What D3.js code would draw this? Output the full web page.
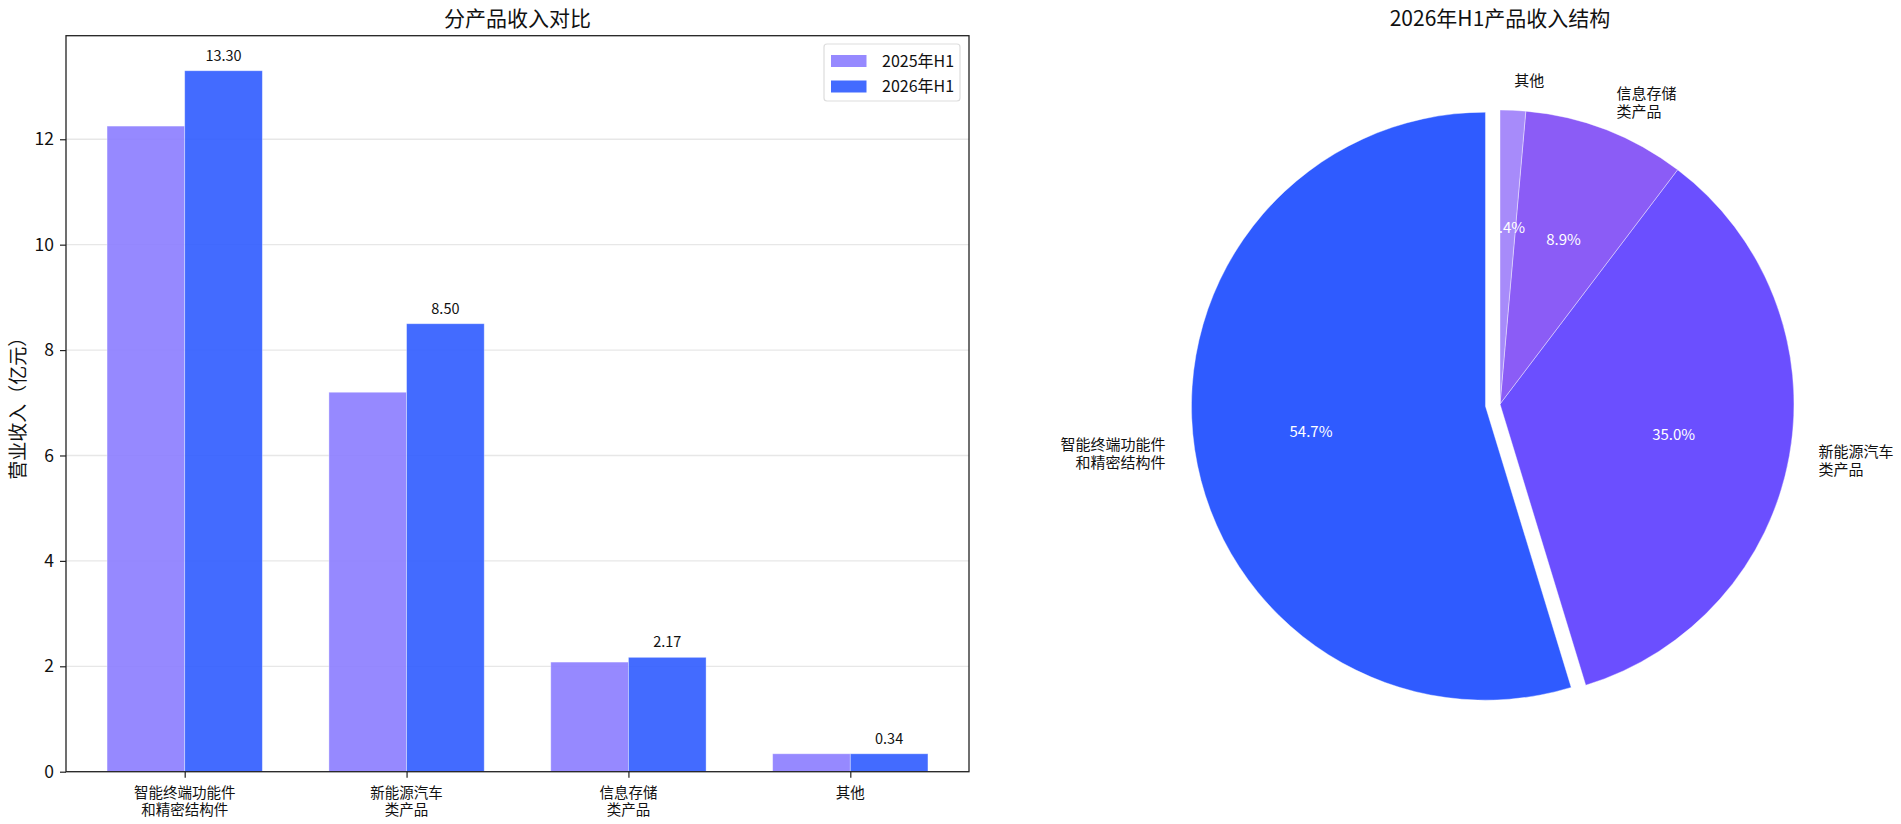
<!DOCTYPE html>
<html>
<head>
<meta charset="utf-8">
<script src="https://cdn.jsdelivr.net/npm/d3@7"></script>
<style>
  body { margin: 0; background: #fff; }
  svg text { font-family: "Noto Sans CJK SC", "Noto Sans", sans-serif; fill: #111; }
</style>
</head>
<body>
<svg id="chart" width="1901" height="824"></svg>
<script>
// data
const categories = ["智能终端功能件\n和精密结构件", "新能源汽车\n类产品", "信息存储\n类产品", "其他"];
const series = ["2025年H1", "2026年H1"];
const rev2025 = [12.25, 7.2, 2.08, 0.34];
const rev2026 = [13.3, 8.5, 2.17, 0.34];
const yTicks = [0, 2, 4, 6, 8, 10, 12];

const barColors = ["#8B7CFF", "#2F5BFF"];
const pieColors = ["#2F5BFF", "#6B4FFF", "#8B5CF6", "#A78BFA"];

const svg = d3.select("#chart");

// ---------- left: grouped bars ----------
const ax = { left: 66, right: 969, top: 35.7, bottom: 771.7 };
const barW = 0.35;
const x = d3.scaleLinear().domain([-0.535, 3.535]).range([ax.left, ax.right]);
const y = d3.scaleLinear().domain([0, d3.max(rev2026) * 1.05]).range([ax.bottom, ax.top]);

const g = svg.append("g");

// grid below bars
g.selectAll(".grid")
  .data(yTicks)
  .enter()
  .append("line")
  .attr("x1", ax.left)
  .attr("x2", ax.right)
  .attr("y1", d => y(d))
  .attr("y2", d => y(d))
  .attr("stroke", "#b0b0b0")
  .attr("stroke-opacity", 0.3)
  .attr("stroke-width", 1.3);

const bars = [rev2025, rev2026];
bars.forEach((vals, s) => {
  const off = s === 0 ? -barW / 2 : barW / 2;
  g.selectAll(".bar" + s)
    .data(vals)
    .enter()
    .append("rect")
    .attr("x", (d, i) => x(i + off - barW / 2))
    .attr("width", x(barW) - x(0))
    .attr("y", d => y(d))
    .attr("height", d => y(0) - y(d))
    .attr("fill", barColors[s])
    .attr("fill-opacity", 0.9)
    .attr("stroke", "#fff")
    .attr("stroke-opacity", 0.45)
    .attr("stroke-width", 0.8);
});

// value labels on 2026 bars
g.selectAll(".val")
  .data(rev2026)
  .enter()
  .append("text")
  .attr("x", (d, i) => x(i + barW / 2))
  .attr("y", d => y(d) - 10)
  .attr("text-anchor", "middle")
  .attr("font-size", "14.5px")
  .text(d => d.toFixed(2));

// y axis
const yAxis = g.append("g")
  .attr("transform", `translate(${ax.left},0)`)
  .call(d3.axisLeft(y).tickValues(yTicks).tickSize(6).tickPadding(6));
yAxis.select(".domain").remove();
yAxis.selectAll("text").attr("font-size", "17.5px").style("font-family", "'Noto Sans CJK SC'").attr("fill", "#111");
yAxis.selectAll("line").attr("stroke", "#222").attr("stroke-width", 1.2);

// x axis ticks + two-line labels
const xAxis = g.append("g")
  .attr("transform", `translate(0,${ax.bottom})`)
  .call(d3.axisBottom(x).tickValues([0, 1, 2, 3]).tickSize(6).tickFormat(""));
xAxis.select(".domain").remove();
xAxis.selectAll("line").attr("stroke", "#222").attr("stroke-width", 1.2);

g.selectAll(".xlab")
  .data(categories)
  .enter()
  .append("text")
  .attr("text-anchor", "middle")
  .attr("font-size", "14.5px")
  .each(function (d, i) {
    const t = d3.select(this);
    d.split("\n").forEach((line, k) => {
      t.append("tspan")
        .attr("x", x(i))
        .attr("y", ax.bottom + 26 + k * 17.5)
        .text(line);
    });
  });

// frame
g.append("rect")
  .attr("x", ax.left)
  .attr("y", ax.top)
  .attr("width", ax.right - ax.left)
  .attr("height", ax.bottom - ax.top)
  .attr("fill", "none")
  .attr("stroke", "#222")
  .attr("stroke-width", 1.3);

// titles
g.append("text")
  .attr("x", (ax.left + ax.right) / 2)
  .attr("y", 26)
  .attr("text-anchor", "middle")
  .attr("font-size", "21px")
  .text("分产品收入对比");

g.append("text")
  .attr("transform", `translate(25,${(ax.top + ax.bottom) / 2}) rotate(-90)`)
  .attr("text-anchor", "middle")
  .attr("font-size", "19px")
  .text("营业收入（亿元）");

// legend
const lg = g.append("g");
lg.append("rect")
  .attr("x", 824)
  .attr("y", 44)
  .attr("width", 136)
  .attr("height", 57)
  .attr("rx", 3)
  .attr("fill", "#fff")
  .attr("fill-opacity", 0.8)
  .attr("stroke", "#ddd")
  .attr("stroke-width", 1.2);
series.forEach((name, s) => {
  lg.append("rect")
    .attr("x", 831)
    .attr("y", 55 + s * 25.5)
    .attr("width", 35.5)
    .attr("height", 12)
    .attr("fill", barColors[s])
    .attr("fill-opacity", 0.9);
  lg.append("text")
    .attr("x", 882)
    .attr("y", 61 + s * 25.5)
    .attr("dy", "0.35em")
    .attr("font-size", "16px")
    .text(name);
});

// ---------- right: pie ----------
const cx = 1500, cy = 404, r = 294;
const pie = d3.pie().sort(null).value(d => d).startAngle(0).endAngle(-2 * Math.PI);
const arcs = pie(rev2026);
const total = d3.sum(rev2026);
const arc = d3.arc().innerRadius(0).outerRadius(r);
const explode = [0.05, 0, 0, 0];

const pg = svg.append("g").attr("transform", `translate(${cx},${cy})`);

arcs.forEach((a, i) => {
  const mid = (a.startAngle + a.endAngle) / 2;
  const ox = Math.sin(mid) * explode[i] * r;
  const oy = -Math.cos(mid) * explode[i] * r;
  const wg = pg.append("g").attr("transform", `translate(${ox},${oy})`);
  wg.append("path")
    .attr("d", arc(a))
    .attr("fill", pieColors[i])
    .attr("stroke", "#fff")
    .attr("stroke-opacity", 0.5)
    .attr("stroke-width", 0.8);
  a.ox = ox;
  a.oy = oy;
  a.mid = mid;
});

// percent labels
arcs.forEach((a, i) => {
  pg.append("text")
    .attr("x", a.ox + Math.sin(a.mid) * r * 0.6)
    .attr("y", a.oy - Math.cos(a.mid) * r * 0.6)
    .attr("dy", "0.35em")
    .attr("text-anchor", "middle")
    .attr("font-size", "15px")
    .style("fill", "#fff")
    .text((a.value / total * 100).toFixed(1) + "%");
});

// category labels
arcs.forEach((a, i) => {
  const lx = a.ox + Math.sin(a.mid) * r * 1.1;
  const ly = a.oy - Math.cos(a.mid) * r * 1.1;
  const lines = categories[i].split("\n");
  const t = pg.append("text")
    .attr("text-anchor", Math.sin(a.mid) < 0 ? "end" : "start")
    .attr("font-size", "15px");
  lines.forEach((line, k) => {
    t.append("tspan")
      .attr("x", lx)
      .attr("y", ly + (k - (lines.length - 1) / 2) * 18)
      .attr("dy", "0.35em")
      .text(line);
  });
});

svg.append("text")
  .attr("x", cx)
  .attr("y", 26)
  .attr("text-anchor", "middle")
  .attr("font-size", "21px")
  .text("2026年H1产品收入结构");
</script>
</body>
</html>
